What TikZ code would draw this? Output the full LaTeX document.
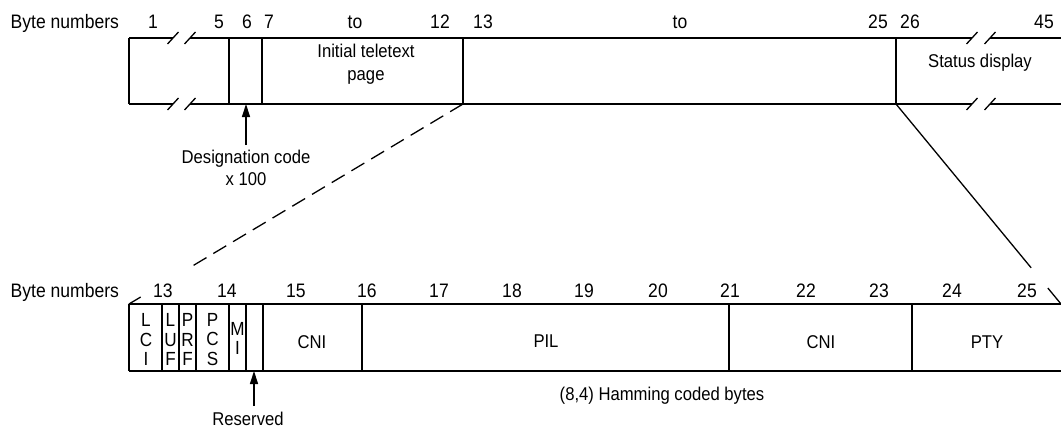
\documentclass[tikz,border=0pt]{standalone}
\usepackage{fontspec}
\setmainfont[FakeStretch=0.9]{Liberation Sans}
\usetikzlibrary{calc,arrows.meta}
\begin{document}
\begin{tikzpicture}[x=1pt,y=-1pt,
  line width=1.3pt,
  num/.style={font=\fontsize{19.5}{24}\selectfont, inner sep=0pt, anchor=base},
  txt/.style={font=\fontsize{18.5}{24}\selectfont, inner sep=0pt, anchor=base, align=center},
  cell/.style={font=\fontsize{19}{23}\selectfont, inner sep=0pt, anchor=center, align=center},
  thickline/.style={line width=2.7pt},
  topline/.style={line width=2pt},
  brk/.style={line width=1.3pt},
  dashln/.style={dash pattern=on 15pt off 8pt, line width=1.3pt},
  arr/.style={-{Triangle[width=8pt,length=13pt]}, line width=1.3pt}
]
\useasboundingbox (0,0) rectangle (1061,428);

% ---------- top strip ----------
\draw[topline] (129,38) -- (173,38);
\draw[topline] (190,38) -- (972,38);
\draw[topline] (990,38) -- (1061,38);
\draw (129,104) -- (173,104);
\draw (190,104) -- (972,104);
\draw (990,104) -- (1061,104);
\draw (129,38) -- (129,104);
\draw (229,38) -- (229,104);
\draw[thickline] (262,38) -- (262,104);
\draw (463,38) -- (463,104);
\draw (896,38) -- (896,104);
% break marks
\foreach \xx in {173,190,972,990}{
  \draw[brk] (\xx-5.5,44) -- (\xx+5.5,32);
  \draw[brk] (\xx-5.5,110) -- (\xx+5.5,98);
}

% top labels
\node[num, anchor=base west] (bn1) at (10,29) {Byte numbers};
\node[num] (n1) at (153,29) {1};
\node[num] (n5) at (219,29) {5};
\node[num] (n6) at (247,29) {6};
\node[num] (n7) at (269,29) {7};
\node[num] (nto1) at (355,29) {to};
\node[num] (n12) at (440,29) {12};
\node[num] (n13) at (483,29) {13};
\node[num] (nto2) at (680,29) {to};
\node[num] (n25) at (878,29) {25};
\node[num] (n26) at (910,29) {26};
\node[num] (n45) at (1044,29) {45};

\node[txt] (itp) at (366,81) {Initial teletext\\[-1pt]page};
\node[txt] (sd) at (980,68) {Status display};

% designation code
\coordinate (c6) at (246,104);
\node[txt] (dc) at (246,185) {Designation code\\[-2pt]x 100};
\draw[arr] (246,145) -- (c6);

% ---------- connectors ----------
\coordinate (t13) at (463,104);
\coordinate (b13) at (129,304);
\coordinate (t26) at (896,104);
\coordinate (b25) at (1061,304);
\draw[dashln] (t13) -- ($(t13)!0.824!(b13)$);
\draw (b13) -- ($(b13)!0.035!(t13)$);
\draw (t26) -- ($(t26)!0.819!(b25)$);
\draw ($(t26)!0.92!(b25)$) -- (b25);

% ---------- bottom strip ----------
\draw (129,304) -- (1061,304);
\draw (129,371) -- (1061,371);
\foreach \xx in {129,162,179,196,229,246,362,729,912}{
  \draw (\xx,304) -- (\xx,371);
}
\draw[thickline] (263,304) -- (263,371);

% bottom labels
\node[num, anchor=base west] (bn2) at (10,297) {Byte numbers};
\node[num] (m13) at (163,297) {13};
\node[num] (m14) at (227,297) {14};
\node[num] (m15) at (296,297) {15};
\node[num] (m16) at (367,297) {16};
\node[num] (m17) at (439,297) {17};
\node[num] (m18) at (512,297) {18};
\node[num] (m19) at (584,297) {19};
\node[num] (m20) at (658,297) {20};
\node[num] (m21) at (730,297) {21};
\node[num] (m22) at (806,297) {22};
\node[num] (m23) at (879,297) {23};
\node[num] (m24) at (952,297) {24};
\node[num] (m25) at (1027,297) {25};

% cell texts
\node[cell] (lci) at (146,339.5) {L\\[-3.5pt]C\\[-3.5pt]I};
\node[cell] (luf) at (170.5,339.5) {L\\[-3.5pt]U\\[-3.5pt]F};
\node[cell] (prf) at (187.5,339.5) {P\\[-3.5pt]R\\[-3.5pt]F};
\node[cell] (pcs) at (212.5,339.5) {P\\[-3.5pt]C\\[-3.5pt]S};
\node[cell] (mi) at (237.5,338.5) {M\\[-3.5pt]I};
\node[txt] (cni1) at (312,348) {CNI};
\node[txt] (pil) at (546,347) {PIL};
\node[txt] (cni2) at (821,348) {CNI};
\node[txt] (pty) at (987,348) {PTY};

\node[txt] (ham) at (662,400) {(8,4) Hamming coded bytes};

% reserved
\coordinate (cres) at (254,371);
\node[txt] (res) at (248,425) {Reserved};
\draw[arr] (254,406) -- (cres);
\end{tikzpicture}
\end{document}
